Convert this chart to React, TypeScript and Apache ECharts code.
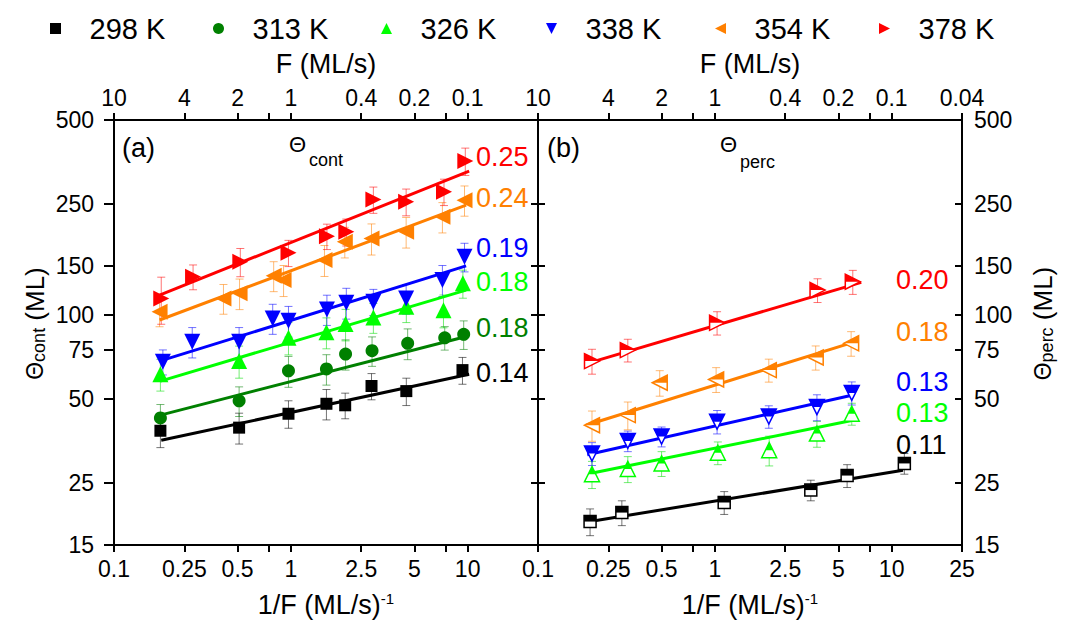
import React, { useEffect, useRef } from "react";
import * as echarts from "echarts";

const FONT = "'Liberation Sans', Arial, Helvetica, sans-serif";

const TEMPS = ["298 K", "313 K", "326 K", "338 K", "354 K", "378 K"];
const COLORS = ["#000000", "#008000", "#00ff00", "#0000ff", "#ff8000", "#ff0000"];
const ERR_COLORS = [
  "rgba(0,0,0,0.55)",
  "rgba(0,128,0,0.55)",
  "rgba(0,220,0,0.55)",
  "rgba(0,0,255,0.55)",
  "rgba(255,128,0,0.55)",
  "rgba(255,0,0,0.55)",
];

const X_TICKS = [0.1, 0.25, 0.5, 0.75, 1, 2.5, 5, 7.5, 10, 25];
const X_LABELS_A = [0.1, 0.25, 0.5, 1, 2.5, 5, 10];
const X_LABELS_B = [0.1, 0.25, 0.5, 1, 2.5, 5, 10, 25];
const Y_TICKS = [15, 25, 50, 75, 100, 150, 250, 500];

// ---------- Panel (a): Theta_cont ----------
const A298_X = [0.183, 0.51, 0.97, 1.59, 2.03, 2.86, 4.5, 9.35];
const A298_Y = [38.5, 39.5, 44.3, 48.1, 47.5, 55.7, 53.4, 63.5];
const A298_E = [5, 5, 5, 6, 5, 6, 6, 7];
const A298_FIT = [[0.185, 35.6], [10.2, 61.4]];

const A313_X = [0.183, 0.51, 0.97, 1.59, 2.04, 2.88, 4.58, 7.42, 9.5];
const A313_Y = [42.8, 49.3, 63.1, 64.1, 72.5, 74.5, 79.2, 82.9, 85.3];
const A313_E = [5, 6, 8, 8, 9, 9, 10, 8, 10];
const A313_FIT = [[0.183, 43.8], [9.7, 83.6]];

const A326_X = [0.183, 0.51, 0.97, 1.59, 2.04, 2.93, 4.5, 7.3, 9.4];
const A326_Y = [61.4, 68.4, 83, 86.7, 92.8, 98, 107, 104, 129.9];
const A326_E = [8, 9, 11, 11, 12, 12, 13, 14, 15];
const A326_FIT = [[0.183, 58], [9.8, 122.9]];

const A338_X = [0.189, 0.277, 0.51, 0.79, 0.97, 1.6, 2.06, 2.93, 4.49, 7.2, 9.6];
const A338_Y = [68, 80.2, 80.2, 97.3, 95.4, 104.8, 110.7, 111.6, 114.7, 133.5, 161.8];
const A338_E = [7, 10, 10, 12, 12, 13, 14, 12, 14, 17, 19];
const A338_FIT = [[0.183, 68.5], [9.8, 150]];

const A354_X = [0.181, 0.416, 0.513, 0.8, 0.91, 1.55, 2.02, 2.86, 4.49, 7.2, 9.6];
const A354_Y = [102.8, 114.7, 119.6, 138.3, 133.5, 157.5, 183.2, 188.1, 198.8, 224.9, 258.1];
const A354_E = [12, 14, 15, 17, 17, 20, 23, 24, 25, 28, 32];
const A354_FIT = [[0.181, 96], [9.8, 247.8]];

const A378_X = [0.185, 0.28, 0.518, 0.97, 1.6, 2.06, 2.93, 4.49, 7.35, 9.7];
const A378_Y = [114.7, 137.2, 155.2, 167.2, 191.7, 198.8, 259.5, 254.8, 276.8, 356.5];
const A378_E = [22, 14, 18, 18, 20, 22, 28, 28, 30, 40];
const A378_FIT = [[0.181, 117.9], [10.2, 328]];

const A_SLOPES = ["0.14", "0.18", "0.18", "0.19", "0.24", "0.25"];

// ---------- Panel (b): Theta_perc ----------
const B298_X = [0.197, 0.298, 1.13, 3.49, 5.6, 11.8];
const B298_Y = [18.2, 19.6, 21.3, 23.6, 26.6, 29.4];
const B298_E = [2, 2, 2, 2, 2.5, 2.5];
const B298_FIT = [[0.197, 18.2], [11.6, 27.8]];

const B326_X = [0.202, 0.322, 0.5, 1.04, 2.03, 3.78, 5.95];
const B326_Y = [26.9, 28.1, 29.4, 32.1, 32.8, 37.6, 44.3];
const B326_E = [3, 3, 3, 3, 4, 4, 4];
const B326_FIT = [[0.2, 27.1], [6.04, 42]];

const B338_X = [0.202, 0.322, 0.5, 1.03, 2.02, 3.78, 5.95];
const B338_Y = [31.9, 35.4, 36.7, 41.5, 43.3, 46.8, 52.6];
const B338_E = [3, 3, 3, 4, 4, 5, 5];
const B338_FIT = [[0.19, 31.6], [6.04, 51.7]];

const B354_X = [0.202, 0.322, 0.488, 1.017, 2.02, 3.72, 5.9];
const B354_Y = [40.3, 43.8, 57.2, 58.8, 63.5, 70.5, 79.2];
const B354_E = [5, 5, 6, 6, 6, 7, 8];
const B354_FIT = [[0.187, 40.3], [6.17, 80.2]];

const B378_X = [0.202, 0.322, 1.03, 3.81, 6.03];
const B378_Y = [68.4, 74.9, 93.8, 122.9, 131.6];
const B378_E = [7, 7, 9, 12, 13];
const B378_FIT = [[0.19, 67.1], [6.73, 131]];

const B_SLOPES = ["0.11", "", "0.13", "0.13", "0.18", "0.20"];

type Set = { x: number[]; y: number[]; e: number[]; fit: number[][] };
const A_SETS: (Set | null)[] = [
  { x: A298_X, y: A298_Y, e: A298_E, fit: A298_FIT },
  { x: A313_X, y: A313_Y, e: A313_E, fit: A313_FIT },
  { x: A326_X, y: A326_Y, e: A326_E, fit: A326_FIT },
  { x: A338_X, y: A338_Y, e: A338_E, fit: A338_FIT },
  { x: A354_X, y: A354_Y, e: A354_E, fit: A354_FIT },
  { x: A378_X, y: A378_Y, e: A378_E, fit: A378_FIT },
];
const B_SETS: (Set | null)[] = [
  { x: B298_X, y: B298_Y, e: B298_E, fit: B298_FIT },
  null,
  { x: B326_X, y: B326_Y, e: B326_E, fit: B326_FIT },
  { x: B338_X, y: B338_Y, e: B338_E, fit: B338_FIT },
  { x: B354_X, y: B354_Y, e: B354_E, fit: B354_FIT },
  { x: B378_X, y: B378_Y, e: B378_E, fit: B378_FIT },
];

// marker styles
const SYMBOLS = ["rect", "circle", "triangle", "triangle", "triangle", "triangle"];
const ROTATES = [0, 0, 0, 180, 90, -90];
const SIZES_A = [12, 13, 16, 16, 16, 16];
const SIZES_B = [12, 13, 15, 15, 15, 15];
const HALF_PATHS = [
  { p: "path://M0,0L10,0L10,5L0,5Z", s: [12, 6], o: [0, -3] },
  null,
  { p: "path://M5,0L10,10L0,10Z", s: [7.5, 7.5], o: [0, -3.75] },
  { p: "path://M0,0L20,0L15,10L5,10Z", s: [15, 7.5], o: [0, -3.75] },
  { p: "path://M0,10L10,0L10,10Z", s: [15, 7.5], o: [0, -3.75] },
  { p: "path://M0,0L10,10L0,10Z", s: [15, 7.5], o: [0, -3.75] },
];
const LEGEND_ICONS = [
  "path://M0,0L10,0L10,10L0,10Z",
  "circle",
  "path://M5,0L10,10L0,10Z",
  "path://M0,0L10,0L5,10Z",
  "path://M10,0L10,10L0,5Z",
  "path://M0,0L10,5L0,10Z",
];
const LEGEND_LEFT = [50, 213, 381, 546, 715, 879];
const A_LABEL_Y = [373, 328, 282, 248, 198, 157];
const B_LABEL_Y = [445, 0, 413, 382, 332, 280];

const fmtF = (v: number) => String(parseFloat((1 / v).toPrecision(3)));

function errRender(color: string) {
  return (params: any, api: any) => {
    const x = api.value(0);
    const y = api.value(1);
    const e = api.value(2);
    const top = api.coord([x, y + e]);
    const bot = api.coord([x, y - e]);
    const w = 4;
    const style = { stroke: color, lineWidth: 1 };
    return {
      type: "group",
      children: [
        { type: "line", shape: { x1: top[0], y1: top[1], x2: bot[0], y2: bot[1] }, style },
        { type: "line", shape: { x1: top[0] - w, y1: top[1], x2: top[0] + w, y2: top[1] }, style },
        { type: "line", shape: { x1: bot[0] - w, y1: bot[1], x2: bot[0] + w, y2: bot[1] }, style },
      ],
    };
  };
}

const axisLineStyle = { show: true, onZero: false, lineStyle: { color: "#000", width: 2 } };

function xAxis(grid: number, pos: "top" | "bottom", labels: number[], name: string, top: boolean) {
  return {
    type: "log",
    logBase: 10,
    gridIndex: grid,
    position: pos,
    min: 0.1,
    max: 25,
    axisLine: axisLineStyle,
    splitLine: { show: false },
    axisTick: {
      show: true,
      inside: false,
      length: 7,
      lineStyle: { color: "#000", width: 2 },
      customValues: X_TICKS,
    },
    minorTick: { show: false },
    axisLabel: {
      show: true,
      customValues: labels,
      margin: top ? 11 : 12,
      fontSize: 23,
      fontFamily: FONT,
      color: "#000",
      formatter: top ? (v: number) => fmtF(v) : (v: number) => String(parseFloat(v.toPrecision(3))),
    },
    name,
    nameLocation: "middle",
    nameGap: top ? 43 : 46,
    nameMoveOverlap: false,
    nameTextStyle: {
      fontSize: 27,
      fontFamily: FONT,
      color: "#000",
      rich: { p: { fontSize: 15, fontFamily: FONT, color: "#000", verticalAlign: "top" } },
    },
  };
}

function yAxis(grid: number, pos: "left" | "right", showLabels: boolean, inside: boolean, name: string, gap: number) {
  return {
    type: "log",
    logBase: 10,
    gridIndex: grid,
    position: pos,
    min: 15,
    max: 500,
    axisLine: axisLineStyle,
    splitLine: { show: false },
    axisTick: {
      show: true,
      inside,
      length: inside ? 7 : 10,
      lineStyle: { color: "#000", width: 2 },
      customValues: Y_TICKS,
    },
    minorTick: { show: false },
    axisLabel: {
      show: showLabels,
      customValues: Y_TICKS,
      margin: pos === "left" ? 20 : 12,
      fontSize: 23,
      fontFamily: FONT,
      color: "#000",
      formatter: (v: number) => String(Math.round(v)),
    },
    name,
    nameLocation: "middle",
    nameGap: gap,
    nameMoveOverlap: false,
    nameTextStyle: {
      fontSize: 26,
      fontFamily: FONT,
      color: "#000",
      padding: [0, 0, 0, 18],
      rich: {
        t: { fontSize: 23, fontFamily: FONT, color: "#000", verticalAlign: "middle" },
        s: { fontSize: 18, fontFamily: FONT, color: "#000", verticalAlign: "bottom" },
      },
    },
  };
}

function buildSeries() {
  const series: any[] = [];
  TEMPS.forEach((t, i) => {
    const a = A_SETS[i];
    if (a) {
      series.push({
        name: t,
        type: "custom",
        xAxisIndex: 0,
        yAxisIndex: 0,
        renderItem: errRender(ERR_COLORS[i]),
        data: a.x.map((v, k) => [v, a.y[k], a.e[k]]),
        encode: { x: 0, y: 1 },
        z: 1,
        silent: true,
      });
      series.push({
        name: t,
        type: "line",
        xAxisIndex: 0,
        yAxisIndex: 0,
        data: a.fit,
        symbol: "none",
        lineStyle: { color: COLORS[i], width: 3 },
        z: 2,
        silent: true,
      });
      series.push({
        name: t,
        type: "scatter",
        xAxisIndex: 0,
        yAxisIndex: 0,
        data: a.x.map((v, k) => [v, a.y[k]]),
        symbol: SYMBOLS[i],
        symbolRotate: ROTATES[i],
        symbolSize: SIZES_A[i],
        itemStyle: { color: COLORS[i], opacity: 1 },
        z: 3,
        silent: true,
      });
    }
    const b = B_SETS[i];
    if (b) {
      const half = HALF_PATHS[i]!;
      series.push({
        name: t,
        type: "custom",
        xAxisIndex: 2,
        yAxisIndex: 2,
        renderItem: errRender(ERR_COLORS[i]),
        data: b.x.map((v, k) => [v, b.y[k], b.e[k]]),
        encode: { x: 0, y: 1 },
        z: 1,
        silent: true,
      });
      series.push({
        name: t,
        type: "line",
        xAxisIndex: 2,
        yAxisIndex: 2,
        data: b.fit,
        symbol: "none",
        lineStyle: { color: COLORS[i], width: 3 },
        z: 2,
        silent: true,
      });
      series.push({
        name: t,
        type: "scatter",
        xAxisIndex: 2,
        yAxisIndex: 2,
        data: b.x.map((v, k) => [v, b.y[k]]),
        symbol: SYMBOLS[i],
        symbolRotate: ROTATES[i],
        symbolSize: SIZES_B[i],
        itemStyle: { color: "#ffffff", borderColor: COLORS[i], borderWidth: 1.5, opacity: 1 },
        z: 3,
        silent: true,
      });
      series.push({
        name: t,
        type: "scatter",
        xAxisIndex: 2,
        yAxisIndex: 2,
        data: b.x.map((v, k) => [v, b.y[k]]),
        symbol: half.p,
        symbolSize: half.s,
        symbolOffset: half.o,
        symbolKeepAspect: false,
        itemStyle: { color: COLORS[i], opacity: 1 },
        z: 4,
        silent: true,
      });
    }
  });
  return series;
}

function buildGraphic() {
  const txt = (x: number, y: number, text: string, size: number, color = "#000") => ({
    type: "text",
    x,
    y,
    silent: true,
    style: { text, fill: color, fontSize: size, fontFamily: FONT, align: "left", verticalAlign: "middle" },
  });
  const g: any[] = [
    txt(122, 148, "(a)", 27),
    txt(289, 144, "Θ", 22),
    txt(309, 160, "cont", 18),
    txt(547, 148, "(b)", 27),
    txt(720, 144, "Θ", 22),
    txt(740, 162, "perc", 18),
  ];
  TEMPS.forEach((_, i) => {
    if (A_SLOPES[i]) g.push(txt(476, A_LABEL_Y[i], A_SLOPES[i], 27, COLORS[i]));
    if (B_SLOPES[i]) g.push(txt(896, B_LABEL_Y[i], B_SLOPES[i], 27, COLORS[i]));
  });
  return g;
}

function buildLegends() {
  return TEMPS.map((t, i) => ({
    show: true,
    selectedMode: false,
    top: 14,
    left: LEGEND_LEFT[i],
    padding: 0,
    itemWidth: 58,
    itemHeight: 11,
    symbolKeepAspect: true,
    textStyle: { fontSize: 29, fontFamily: FONT, color: "#000" },
    data: [{ name: t, icon: LEGEND_ICONS[i], itemStyle: { color: COLORS[i] } }],
  }));
}

export default function App() {
  const ref = useRef<HTMLDivElement>(null);
  useEffect(() => {
    if (!ref.current) return;
    const chart = echarts.init(ref.current, undefined, { renderer: "svg" });
    chart.setOption({
      animation: false,
      backgroundColor: "#ffffff",
      textStyle: { fontFamily: FONT },
      legend: buildLegends(),
      grid: [
        { left: 114, top: 120, width: 424, height: 425, containLabel: false, outerBoundsMode: "none" },
        { left: 538, top: 120, width: 424, height: 425, containLabel: false, outerBoundsMode: "none" },
      ],
      xAxis: [
        xAxis(0, "bottom", X_LABELS_A, "1/F (ML/s){p|-1}", false),
        xAxis(0, "top", X_LABELS_A, "F (ML/s)", true),
        xAxis(1, "bottom", X_LABELS_B, "1/F (ML/s){p|-1}", false),
        xAxis(1, "top", X_LABELS_B, "F (ML/s)", true),
      ],
      yAxis: [
        yAxis(0, "left", true, false, "{t|Θ}{s|cont} (ML)", 66),
        yAxis(0, "right", false, true, "", 0),
        yAxis(1, "left", false, true, "", 0),
        yAxis(1, "right", true, true, "{t|Θ}{s|perc} (ML)", 68),
      ],
      series: buildSeries(),
      graphic: buildGraphic(),
    });
    return () => chart.dispose();
  }, []);
  return (
    <div
      ref={ref}
      style={{ position: "absolute", left: 0, top: 0, width: 1068, height: 625, background: "#fff" }}
    />
  );
}
